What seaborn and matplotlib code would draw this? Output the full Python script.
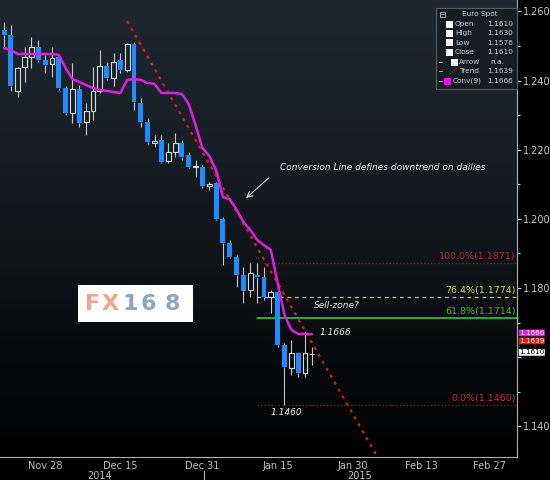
import numpy as np
import pandas as pd
import seaborn as sns
import matplotlib.pyplot as plt
from matplotlib.patches import Rectangle
from matplotlib.colors import LinearSegmentedColormap
from matplotlib.ticker import MultipleLocator

# Euro Spot, daily candles
opens = [1.2546, 1.2532, 1.2370, 1.2439, 1.2468, 1.2497, 1.2459, 1.2448, 1.2468, 1.2378,
         1.2306, 1.2376, 1.2280, 1.2312, 1.2370, 1.2442, 1.2407, 1.2459, 1.2430, 1.2506,
         1.2335, 1.2280, 1.2219, 1.2228, 1.2167, 1.2193, 1.2219, 1.2185, 1.2151, 1.2150,
         1.2095, 1.2104, 1.2000, 1.1930, 1.1890, 1.1838, 1.1794, 1.1838, 1.1832, 1.1774,
         1.1788, 1.1635, 1.1569, 1.1612, 1.1554, 1.1610]
highs = [1.2569, 1.2561, 1.2439, 1.2497, 1.2526, 1.2517, 1.2474, 1.2497, 1.2474, 1.2384,
         1.2451, 1.2387, 1.2335, 1.2439, 1.2488, 1.2454, 1.2480, 1.2480, 1.2509, 1.2511,
         1.2349, 1.2292, 1.2242, 1.2242, 1.2219, 1.2248, 1.2228, 1.2193, 1.2170, 1.2156,
         1.2107, 1.2107, 1.2005, 1.1939, 1.1895, 1.1861, 1.1872, 1.1872, 1.1861, 1.1794,
         1.1794, 1.1640, 1.1650, 1.1612, 1.1673, 1.1630]
lows = [1.2497, 1.2370, 1.2352, 1.2396, 1.2436, 1.2454, 1.2422, 1.2410, 1.2373, 1.2300,
        1.2277, 1.2266, 1.2242, 1.2286, 1.2364, 1.2402, 1.2384, 1.2422, 1.2425, 1.2315,
        1.2266, 1.2216, 1.2208, 1.2162, 1.2162, 1.2179, 1.2170, 1.2147, 1.2121, 1.2089,
        1.2083, 1.1997, 1.1867, 1.1887, 1.1803, 1.1757, 1.1774, 1.1757, 1.1765, 1.1728,
        1.1630, 1.1460, 1.1548, 1.1543, 1.1543, 1.1576]
closes = [1.2532, 1.2384, 1.2436, 1.2468, 1.2497, 1.2459, 1.2445, 1.2465, 1.2378, 1.2306,
          1.2376, 1.2277, 1.2312, 1.2370, 1.2442, 1.2407, 1.2454, 1.2430, 1.2506, 1.2338,
          1.2280, 1.2222, 1.2225, 1.2164, 1.2193, 1.2219, 1.2179, 1.2150, 1.2154, 1.2095,
          1.2101, 1.2000, 1.1930, 1.1890, 1.1838, 1.1791, 1.1843, 1.1832, 1.1774, 1.1788,
          1.1635, 1.1572, 1.1612, 1.1554, 1.1612, 1.1610]
# conversion line, 9 periods
conv9 = [1.2494, 1.2488, 1.2477, 1.2477, 1.2477, 1.2477, 1.2477, 1.2477, 1.2474, 1.2436,
         1.2404, 1.2396, 1.2387, 1.2378, 1.2373, 1.2370, 1.2367, 1.2364, 1.2402, 1.2404,
         1.2402, 1.2393, 1.2390, 1.2364, 1.2364, 1.2364, 1.2361, 1.2332, 1.2271, 1.2205,
         1.2182, 1.2141, 1.2063, 1.2057, 1.2026, 1.1991, 1.1968, 1.1939, 1.1924, 1.1910,
         1.1814, 1.1722, 1.1679, 1.1667, 1.1667, 1.1666]

# trend line anchors (bar index, price)
trend_idx = [18, 55]
trend_px = [1.2572, 1.1297]
trend_last = 1.1639

fib_levels = [1.1871, 1.1774, 1.1714, 1.1460]
fib_labels = ["100.0%(1.1871)", "76.4%(1.1774)", "61.8%(1.1714)", "0.0%(1.1460)"]
fib_start = [38, 37, 37, 37]

tick_dates = ["2014-11-28", "2014-12-15", "2014-12-31", "2015-01-15",
              "2015-01-30", "2015-02-13", "2015-02-27"]
tick_labels = ["Nov 28", "Dec 15", "Dec 31", "Jan 15", "Jan 30", "Feb 13", "Feb 27"]
mark_dates = ["2014-11-21", "2014-12-08", "2014-12-23", "2015-01-08",
              "2015-01-23", "2015-02-06", "2015-02-20"]

dates = pd.bdate_range("2014-11-20", "2015-03-06")
df = pd.DataFrame({"open": opens, "high": highs, "low": lows, "close": closes, "conv": conv9})
df["i"] = np.arange(len(df))
df["up"] = df["close"] >= df["open"]
df["top"] = df[["open", "close"]].max(axis=1)
df["bot"] = df[["open", "close"]].min(axis=1)

sns.set_style("dark")
plt.rcParams["font.family"] = ["DejaVu Sans"]

W, H = 550, 480
fig = plt.figure(figsize=(5.5, 4.8), dpi=100, facecolor="black")
pos = [0, 23 / H, 517 / W, 457 / H]

# background gradient of the plot area
bg = fig.add_axes(pos, zorder=0)
grad = np.linspace(0, 1, 256).reshape(-1, 1)
cmap = LinearSegmentedColormap.from_list("bg", ["#1f2832", "#11171d", "#000000"])
bg.imshow(grad, aspect="auto", cmap=cmap, extent=(0, 1, 0, 1))
bg.axis("off")

ax = fig.add_axes(pos, zorder=1)
ax.set_facecolor("none")

blue = "#1e8cff"
wick = "#c8c8c8"
w = 0.72

# wicks
ax.vlines(df["i"], df["top"], df["high"], color=wick, lw=0.8, zorder=2)
ax.vlines(df["i"], df["low"], df["bot"], color=wick, lw=0.8, zorder=2)
# bodies
dn = df[~df["up"]]
up = df[df["up"]]
ax.bar(dn["i"], dn["top"] - dn["bot"], bottom=dn["bot"], width=w, color=blue, lw=0, zorder=3)
ax.bar(up["i"], up["top"] - up["bot"], bottom=up["bot"], width=w, facecolor="none",
       edgecolor="#dadada", lw=0.8, zorder=3)

# trend line
ax.plot(trend_idx, trend_px, color="#d42020", lw=1.6, ls=(0, (1.4, 2.2)), zorder=2)

# conversion line
sns.lineplot(data=df, x="i", y="conv", color="#e01ee0", lw=1.8, ax=ax, zorder=4)

# fibonacci levels
fib_style = [dict(color="#8b1c1c", ls=(0, (1, 1.5)), lw=1.0),
             dict(color="#c8c850", ls=(0, (3, 3)), lw=0.9),
             dict(color="#22d022", ls="-", lw=1.2),
             dict(color="#8b1c1c", ls=(0, (1, 1.5)), lw=1.0)]
fib_col = ["#b02828", "#d8d860", "#38c038", "#c43030"]
for lvl, lbl, st, sty, c in zip(fib_levels, fib_labels, fib_start, fib_style, fib_col):
    ax.plot([st, 75], [lvl, lvl], zorder=1, **sty)
    ax.annotate(lbl, xy=(74.8, lvl), xytext=(0, 1.5), textcoords="offset points",
                ha="right", va="bottom", fontsize=6.8, color=c)

ax.set_xlim(-0.6, 75.0)
ax.set_ylim(1.1311, 1.2633)
ax.set_xlabel("")
ax.set_ylabel("")

# x axis
tick_pos = dates.get_indexer(pd.to_datetime(tick_dates))
mark_pos = dates.get_indexer(pd.to_datetime(mark_dates))
ax.set_xticks(tick_pos)
ax.set_xticklabels(tick_labels)
ax.set_xticks(mark_pos, minor=True)
ax.tick_params(axis="x", which="major", length=0, pad=3, labelsize=7, labelcolor="#c0c0c0")
ax.tick_params(axis="x", which="minor", length=3, color="#b0b0b0", width=0.8)
xt = ax.get_xaxis_transform()
ax.text(14, -0.042, "2014", transform=xt, ha="center", va="center", fontsize=7, color="#c0c0c0")
ax.text(52, -0.042, "2015", transform=xt, ha="center", va="center", fontsize=7, color="#c0c0c0")
ax.plot([29.3, 29.3], [-0.03, -0.06], transform=xt, color="#b0b0b0", lw=0.8, clip_on=False)

# y axis on the right
ax.yaxis.tick_right()
yt = [1.14, 1.16, 1.18, 1.20, 1.22, 1.24, 1.26]
ax.set_yticks(yt)
ax.set_yticklabels(["" if abs(v - 1.16) < 1e-9 else f"{v:.3f}" for v in yt])
ax.yaxis.set_minor_locator(MultipleLocator(0.01))
ax.tick_params(axis="y", which="major", length=3, width=0.8, color="#c8c8c8",
               labelsize=7, labelcolor="#c8c8c8", pad=1.5)
ax.tick_params(axis="y", which="minor", length=2, width=0.8, color="#c8c8c8")
for s in ["top", "left"]:
    ax.spines[s].set_visible(False)
for s in ["right", "bottom"]:
    ax.spines[s].set_color("#b0b0b0")
    ax.spines[s].set_linewidth(0.8)
ax.grid(False)

# value tags on the price axis, stacked
tag_vals = [conv9[-1], trend_last, closes[-1]]
tag_fc = ["#e020e0", "#e01818", "#ffffff"]
tag_tc = ["white", "white", "black"]
tag_dy = [1.0, 1.9, 0.9]
for v, fc, tc, dy in zip(tag_vals, tag_fc, tag_tc, tag_dy):
    ax.annotate(f"{v:.4f}", xy=(1, v), xycoords=ax.get_yaxis_transform(), xytext=(1.5, dy),
                textcoords="offset points", ha="left", va="center", fontsize=5.2, color=tc,
                bbox=dict(boxstyle="round,pad=0.05", fc=fc, ec="none"),
                annotation_clip=False, zorder=10)

# chart notes
note = dict(fontsize=6.5, style="italic", color="#ececec")
ax.annotate(f"{conv9[-1]:.4f}", xy=(48.5, conv9[-1]), xytext=(0, 1.5),
            textcoords="offset points", ha="center", va="center", **note)
ax.annotate(f"{min(lows):.4f}", xy=(41.3, min(lows)), xytext=(0, -5),
            textcoords="offset points", ha="center", va="center", **note)

ov = fig.add_axes([0, 0, 1, 1], zorder=5)
ov.set_xlim(0, W)
ov.set_ylim(H, 0)
ov.axis("off")

ov.text(280, 168, "Conversion Line defines downtrend on dailies", va="center", **note)
ov.annotate("", xy=(244, 200), xytext=(271, 176),
            arrowprops=dict(arrowstyle="->", color="#cfcfcf", lw=0.8))
ov.text(337, 306, "Sell-zone?", ha="center", va="center", **note)

# FX168 logo
ov.add_patch(Rectangle((78, 285), 115, 37, fc="white", ec="none"))
for ch, cx, col in zip("FX168", [93, 110, 130, 148, 172],
                       ["#f3a58c", "#f3a58c", "#8aa6c6", "#8aa6c6", "#8aa6c6"]):
    ov.text(cx, 304, ch, ha="center", va="center", fontsize=16, fontweight="bold", color=col)

# legend box (top right)
lc = "#d0d0d0"
lf = 5.3
ov.add_patch(Rectangle((436, 8), 81, 81, fc="#161c23", ec="#555b62", lw=0.8))
ov.add_patch(Rectangle((439.5, 11.5), 5, 5, fc="none", ec="#c0c0c0", lw=0.6))
ov.plot([440.5, 443.5], [14, 14], color="#c0c0c0", lw=0.6)
ov.text(462, 14, "Euro Spot", fontsize=lf, color=lc, va="center")
leg_names = ["Open", "High", "Low", "Close"]
leg_vals = [opens[-1], highs[-1], lows[-1], closes[-1]]
for k, (nm, v) in enumerate(zip(leg_names, leg_vals)):
    y = 24 + 9.4 * k
    ov.add_patch(Rectangle((446, y - 3.5), 7, 7, fc="white", ec="none"))
    ov.text(455, y, nm, fontsize=lf, color=lc, va="center")
    ov.text(513, y, f"{v:.4f}", fontsize=lf, color=lc, va="center", ha="right")
for y in [62, 71, 81]:
    ov.plot([439, 442], [y, y], color=lc, lw=0.6)
ov.add_patch(Rectangle((451, 58.5), 6.5, 7, fc="white", ec="none"))
ov.text(459, 62, "Arrow", fontsize=lf, color=lc, va="center")
ov.text(490, 62, "n.a.", fontsize=lf, color=lc, va="center")
ov.plot([450, 457], [74, 68], color="#d42020", lw=0.9, ls=(0, (1, 1)))
ov.text(459, 71, "Trend", fontsize=lf, color=lc, va="center")
ov.text(513, 71, f"{trend_last:.4f}", fontsize=lf, color=lc, va="center", ha="right")
ov.add_patch(Rectangle((444, 77.5), 7, 7, fc="#ff00ff", ec="none"))
ov.text(453, 81, "Conv(9)", fontsize=lf, color=lc, va="center")
ov.text(513, 81, f"{conv9[-1]:.4f}", fontsize=lf, color=lc, va="center", ha="right")

fig.savefig("out.png", dpi=100, facecolor=fig.get_facecolor())
